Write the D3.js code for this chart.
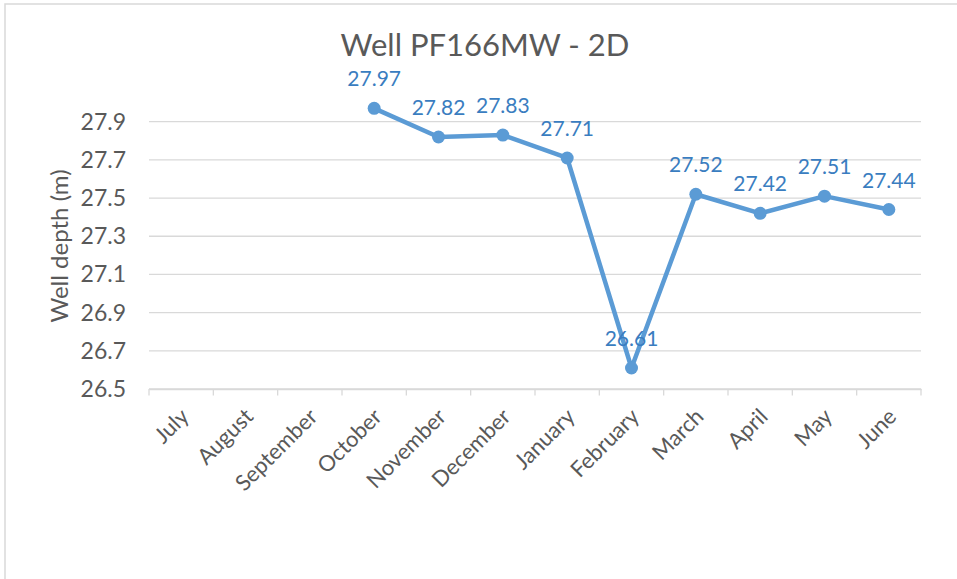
<!DOCTYPE html>
<html>
<head>
<meta charset="utf-8">
<script src="https://cdn.jsdelivr.net/npm/d3@7"></script>
<style>
  body { margin: 0; background: #fff; }
  text { font-family: Lato, "Open Sans", sans-serif; }
</style>
</head>
<body>
<div class="chart"></div>
<script>
var months = ['July', 'August', 'September', 'October', 'November', 'December',
              'January', 'February', 'March', 'April', 'May', 'June'];
var depth = [null, null, null, 27.97, 27.82, 27.83, 27.71, 26.61, 27.52, 27.42, 27.51, 27.44];
var yTicks = [26.5, 26.7, 26.9, 27.1, 27.3, 27.5, 27.7, 27.9];

var w = 957,
    h = 579;

var svg = d3.select('.chart').append('svg').attr('width', w).attr('height', h);

// chart frame, runs off right and bottom
svg.append('rect')
   .attr('x', 5).attr('y', 4)
   .attr('width', 1000).attr('height', 1000)
   .attr('fill', 'none').attr('stroke', '#d9d9d9').attr('stroke-width', 1.5);

var x = d3.scaleBand().domain(months).range([149, 921]);
var y = d3.scaleLinear().domain([26.5, 27.9]).range([389, 121.7]);

// gridlines
svg.append('g')
   .selectAll('line')
   .data(yTicks)
   .enter().append('line')
   .attr('x1', 149).attr('x2', 921)
   .attr('y1', function (d) { return y(d); })
   .attr('y2', function (d) { return y(d); })
   .attr('stroke', '#d9d9d9').attr('stroke-width', 1.3);

// y axis labels
var yAxis = svg.append('g')
   .attr('transform', 'translate(149,0)')
   .call(d3.axisLeft(y).tickValues(yTicks).tickSize(0).tickPadding(23).tickFormat(d3.format('.1f')));
yAxis.select('.domain').remove();
yAxis.selectAll('text').attr('fill', '#595959').attr('font-size', '23px');

// x axis
var xAxis = svg.append('g')
   .attr('transform', 'translate(0,389)')
   .call(d3.axisBottom(x).tickSize(0));
xAxis.select('.domain').attr('stroke', '#d9d9d9').attr('stroke-width', 1.3);
xAxis.selectAll('.tick line').remove();
xAxis.selectAll('.tick text')
     .attr('fill', '#595959').attr('font-size', '22px')
     .attr('text-anchor', 'end')
     .attr('dy', null).attr('y', 0)
     .attr('transform', 'translate(9,29) rotate(-45)');

// category boundary ticks
svg.append('g')
   .selectAll('line')
   .data(months.concat(['end']))
   .enter().append('line')
   .attr('x1', function (d, i) { return 149 + i * x.bandwidth(); })
   .attr('x2', function (d, i) { return 149 + i * x.bandwidth(); })
   .attr('y1', 389).attr('y2', 395.5)
   .attr('stroke', '#d9d9d9').attr('stroke-width', 1.3);

// title
svg.append('text')
   .attr('x', 485).attr('y', 56)
   .attr('text-anchor', 'middle')
   .attr('font-size', '31px').attr('fill', '#595959')
   .text('Well PF166MW - 2D');

// y axis title
svg.append('text')
   .attr('transform', 'translate(68,246) rotate(-90)')
   .attr('text-anchor', 'middle')
   .attr('font-size', '24px').attr('fill', '#595959')
   .text('Well depth (m)');

var pts = months.map(function (m, i) { return { m: m, v: depth[i] }; })
                .filter(function (d) { return d.v !== null; });

var line = d3.line()
   .x(function (d) { return x(d.m) + x.bandwidth() / 2; })
   .y(function (d) { return y(d.v); });

svg.append('path')
   .datum(pts)
   .attr('d', line)
   .attr('fill', 'none')
   .attr('stroke', '#5b9bd5').attr('stroke-width', 4.5)
   .attr('stroke-linejoin', 'round');

svg.append('g')
   .selectAll('circle')
   .data(pts)
   .enter().append('circle')
   .attr('cx', function (d) { return x(d.m) + x.bandwidth() / 2; })
   .attr('cy', function (d) { return y(d.v); })
   .attr('r', 6.5)
   .attr('fill', '#5b9bd5');

svg.append('g')
   .selectAll('text')
   .data(pts)
   .enter().append('text')
   .attr('x', function (d) { return x(d.m) + x.bandwidth() / 2; })
   .attr('y', function (d) { return y(d.v) - 22; })
   .attr('text-anchor', 'middle')
   .attr('font-size', '21px').attr('fill', '#3a7dc0')
   .text(function (d) { return d.v.toFixed(2); });
</script>
</body>
</html>
